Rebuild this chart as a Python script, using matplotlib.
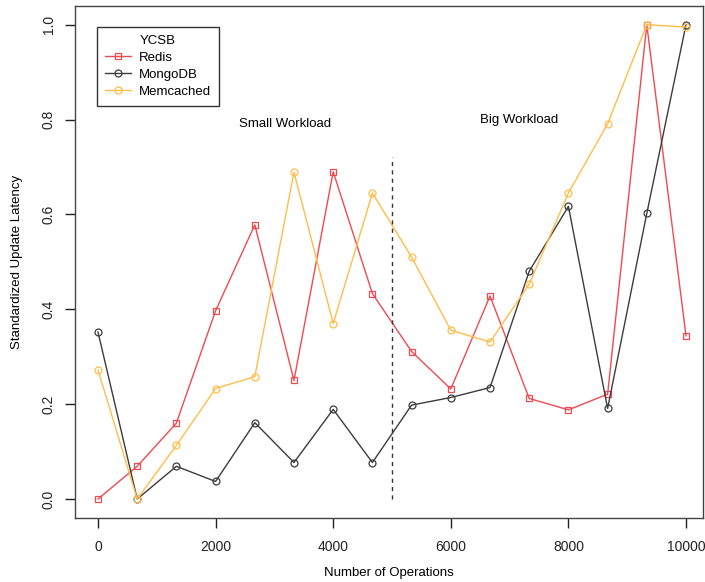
import matplotlib
matplotlib.use("Agg")
import matplotlib.pyplot as plt

plt.rcParams["font.family"] = ["Liberation Sans", "DejaVu Sans"]

# operations (x) and standardized latency per store
ops = [0, 667, 1333, 2000, 2667, 3333, 4000, 4667,
       5333, 6000, 6667, 7333, 8000, 8667, 9333, 10000]
redis = [0.0, 0.069, 0.160, 0.397, 0.578, 0.250, 0.690, 0.433,
         0.311, 0.232, 0.428, 0.212, 0.188, 0.221, 1.0, 0.344]
mongodb = [0.352, 0.0, 0.069, 0.037, 0.161, 0.077, 0.189, 0.077,
           0.198, 0.214, 0.235, 0.480, 0.617, 0.191, 0.602, 1.0]
memcached = [0.272, 0.0, 0.113, 0.233, 0.258, 0.689, 0.370, 0.645,
             0.510, 0.356, 0.331, 0.453, 0.645, 0.791, 1.0, 0.995]

split_x = 5000
split_top = 0.72

fig = plt.figure(figsize=(7.05, 5.82), dpi=100)
ax = fig.add_axes([75 / 705, 64 / 582, 628 / 705, 512.3 / 582])

style = dict(lw=1, ms=5, mfc="none", mew=0.9)
ax.plot(ops, redis, color="#ef4a52", marker="s", label="Redis", **style)
ax.plot(ops, mongodb, color="#3c3c3c", marker="o", label="MongoDB", **style)
ax.plot(ops, memcached, color="#ffbd4a", marker="o", label="Memcached", **style)

ax.plot([split_x, split_x], [0, split_top], color="#333333", lw=1, ls=(0, (3, 3)))
ax.text(3180, 0.79, "Small Workload", ha="center", va="center", fontsize=9.5)
ax.text(7160, 0.80, "Big Workload", ha="center", va="center", fontsize=9.5)

ax.set_xlim(-391, 10289)
ax.set_ylim(-0.04, 1.04)
ax.set_xticks([0, 2000, 4000, 6000, 8000, 10000])
ax.set_yticks([0.0, 0.2, 0.4, 0.6, 0.8, 1.0])
ax.set_yticklabels(["0.0", "0.2", "0.4", "0.6", "0.8", "1.0"], rotation=90,
                   va="center")
ax.tick_params(direction="out", length=7, width=1, labelsize=10,
               colors="#222222")
ax.tick_params(axis="x", pad=9)
ax.tick_params(axis="y", pad=7)
for s in ax.spines.values():
    s.set_linewidth(1)
    s.set_color("#444444")

ax.set_xlabel("Number of Operations", fontsize=9.5, labelpad=9)
ax.set_ylabel("Standardized Update Latency", fontsize=9.5, labelpad=13)

leg = ax.legend(loc="upper left", bbox_to_anchor=(0.035, 0.958), title="YCSB",
                fontsize=9.5, title_fontsize=9.5, fancybox=False,
                handlelength=2.0, handletextpad=0.6, borderpad=0.6,
                labelspacing=0.35, borderaxespad=0, framealpha=1)
leg.get_frame().set_edgecolor("#333333")
leg.get_frame().set_linewidth(1)

fig.savefig("out.png", dpi=100)
